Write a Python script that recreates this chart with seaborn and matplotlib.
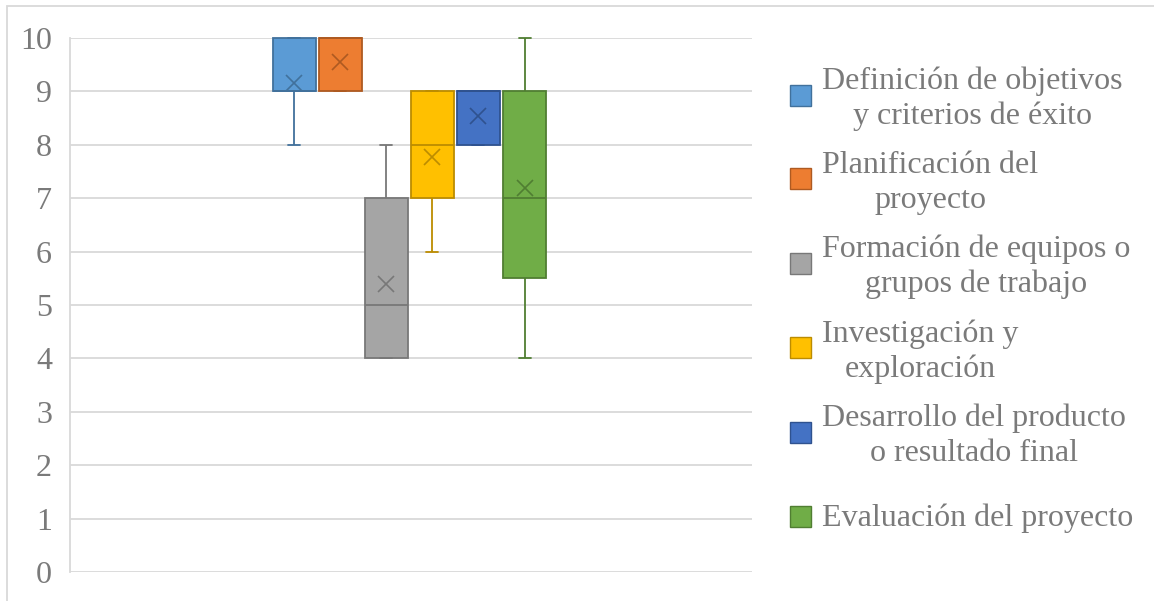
import numpy as np
import pandas as pd
import matplotlib
matplotlib.use("Agg")
import matplotlib.pyplot as plt
from matplotlib.patches import Rectangle
import seaborn as sns

# Etapas del proyecto (leyenda)
etapas = [
    "Definición de objetivos\ny criterios de éxito",
    "Planificación del\nproyecto",
    "Formación de equipos o\ngrupos de trabajo",
    "Investigación y\nexploración",
    "Desarrollo del producto\no resultado final",
    "Evaluación del proyecto",
]

# Puntajes (escala 0-10) por etapa
puntajes_definicion = [8, 8, 9, 9, 9, 9, 9, 9, 9, 10, 10, 10, 10]
puntajes_planificacion = [9, 9, 9, 9, 9, 10, 10, 10, 10, 10, 10]
puntajes_formacion = [4, 4, 4, 4, 4, 5, 5, 5, 6, 7, 7, 7, 8]
puntajes_investigacion = [6, 6, 7, 7, 7, 8, 8, 8, 8, 9, 9, 9, 9]
puntajes_desarrollo = [8, 8, 8, 8, 8, 9, 9, 9, 9, 9, 9]
puntajes_evaluacion = [4, 5, 5, 6, 7, 7, 8, 9, 9, 9, 10]

ticks_y = list(range(0, 11))

colores = ["#5B9BD5", "#ED7D31", "#A5A5A5", "#FFC000", "#4472C4", "#70AD47"]
bordes = ["#41719C", "#AE5A21", "#787878", "#BC8C00", "#2F528F", "#507E32"]

series = [puntajes_definicion, puntajes_planificacion, puntajes_formacion,
          puntajes_investigacion, puntajes_desarrollo, puntajes_evaluacion]
df = pd.DataFrame({
    "grupo": [""] * sum(len(s) for s in series),
    "etapa": [e for e, s in zip(etapas, series) for _ in s],
    "puntaje": [v for s in series for v in s],
})

sns.set_style("white")
plt.rcParams["font.family"] = ["Liberation Serif", "DejaVu Serif"]
TXT = "#7A7A7A"
GRID = "#D9D9D9"

W, H = 1154, 601
fig = plt.figure(figsize=(W / 100, H / 100), dpi=100)
ax = fig.add_axes([70 / W, 1 - 572 / H, 682 / W, 534 / H])

sns.boxplot(
    data=df, x="grupo", y="puntaje", hue="etapa", hue_order=etapas,
    palette=colores, saturation=1, width=0.4056, gap=0.067,
    showmeans=True, showfliers=False, whis=1.5, linewidth=1.3,
    meanprops=dict(marker="x", markersize=12, markeredgewidth=1.2),
    legend=False, ax=ax,
)

# Colores por caja: relleno, borde, bigotes, mediana y media
cajas = []
for p in ax.patches:
    v = p.get_path().vertices
    x0, x1 = v[:, 0].min(), v[:, 0].max()
    cajas.append((0.5 * (x0 + x1), x1 - x0, p))
cajas.sort(key=lambda c: c[0])
centros = np.array([c[0] for c in cajas])
for i, (cx, w, p) in enumerate(cajas):
    p.set_facecolor(colores[i])
    p.set_edgecolor(bordes[i])
    p.set_linewidth(1.3)
    p.set_clip_on(False)

media_cap = 6 / 682
for ln in ax.lines:
    xd = np.asarray(ln.get_xdata(), float)
    yd = np.asarray(ln.get_ydata(), float)
    if xd.size == 0:
        continue
    i = int(np.argmin(np.abs(centros - xd.mean())))
    ln.set_color(bordes[i])
    ln.set_markeredgecolor(bordes[i])
    ln.set_clip_on(False)
    if xd.size == 2 and yd[0] == yd[1] and (xd.max() - xd.min()) < 0.9 * cajas[i][1]:
        ln.set_xdata([centros[i] - media_cap, centros[i] + media_cap])

ax.set_ylim(0, 10)
ax.set_xlim(-0.4975, 0.5025)
ax.set_yticks(ticks_y)
ax.set_yticklabels([str(t) for t in ticks_y])
ax.set_xticks([])
ax.set_xlabel("")
ax.set_ylabel("")
ax.grid(axis="y", color=GRID, linewidth=1.3)
ax.set_axisbelow(True)
for s in ["top", "right", "bottom"]:
    ax.spines[s].set_visible(False)
ax.spines["left"].set_color(GRID)
ax.spines["left"].set_linewidth(1.3)
ax.tick_params(axis="y", length=6, width=1.3, color=GRID, pad=7,
               labelsize=23, labelcolor=TXT)

# Leyenda
ys = [95, 179, 263, 347.5, 432, 516]
lado = 21
for i, (etq, yc) in enumerate(zip(etapas, ys)):
    fig.add_artist(Rectangle(((800 - lado / 2) / W, 1 - (yc + lado / 2) / H),
                             lado / W, lado / H, transform=fig.transFigure,
                             facecolor=colores[i], edgecolor=bordes[i], lw=1))
    dy = 4 if "\n" in etq else 2
    fig.text(822 / W, 1 - (yc + dy) / H, etq, ha="left", va="center",
             multialignment="center", fontsize=23, color=TXT, linespacing=1.26)

# Marco del gráfico
fig.add_artist(Rectangle((7 / W, -0.05), 1.2, 1 - 6 / H + 0.05,
                         transform=fig.transFigure, fill=False,
                         edgecolor=GRID, lw=1.3, clip_on=False))

fig.savefig("out.png", dpi=100)
